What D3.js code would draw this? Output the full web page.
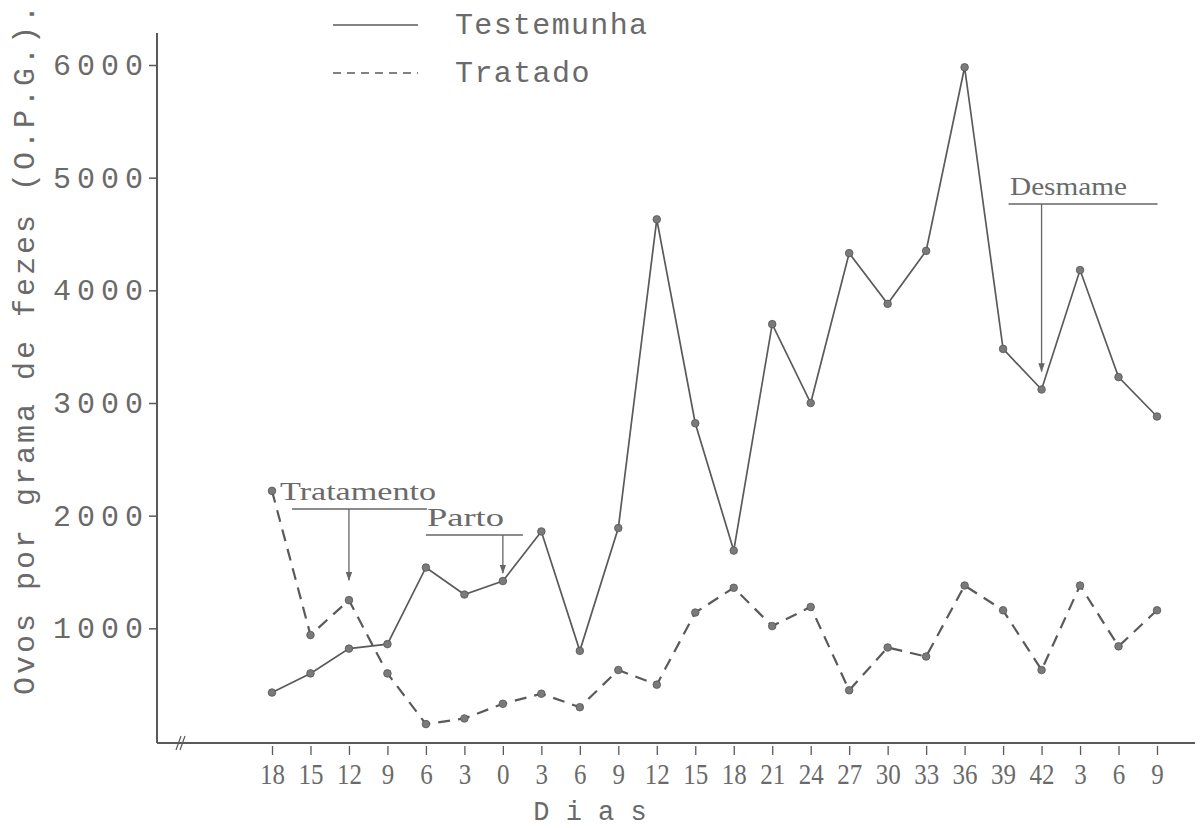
<!DOCTYPE html>
<html>
<head>
<meta charset="utf-8">
<script src="https://cdn.jsdelivr.net/npm/d3@7"></script>
<style>
  body { margin: 0; background: #fff; }
  svg { display: block; }
</style>
</head>
<body>
<svg id="chart" width="1201" height="828"></svg>
<script>
// dias (eixo x) - os rótulos se repetem, por isso usamos o índice
var days = ["18","15","12","9","6","3","0","3","6","9","12","15","18","21","24","27","30","33","36","39","42","3","6","9"];
// O.P.G.
var testemunha = [430, 600, 820, 860, 1540, 1300, 1420, 1860, 800, 1890, 4630, 2820, 1690, 3700, 3000, 4330, 3880, 4350, 5980, 3480, 3120, 4180, 3230, 2880];
var tratado = [2220, 940, 1250, 600, 150, 200, 330, 420, 300, 630, 500, 1140, 1360, 1020, 1190, 450, 830, 750, 1380, 1160, 630, 1380, 840, 1160];
var yTicks = [1000, 2000, 3000, 4000, 5000, 6000];

var ink = "#5a5a5a";
var textInk = "#6a6a6a";
var mono = "'Liberation Mono', 'DejaVu Sans Mono', monospace";
var serif = "'Liberation Serif', 'DejaVu Serif', serif";

var svg = d3.select("#chart");

var x = d3.scalePoint()
    .domain(d3.range(days.length))
    .range([272, 1157]);
var y = d3.scaleLinear()
    .domain([0, 6000])
    .range([741, 65]);

var axisX0 = 157, axisY0 = 743;

// eixos
svg.append("line")
    .attr("x1", axisX0).attr("x2", axisX0)
    .attr("y1", 33).attr("y2", axisY0)
    .attr("stroke", ink).attr("stroke-width", 2);
svg.append("line")
    .attr("x1", axisX0).attr("x2", 1195)
    .attr("y1", axisY0).attr("y2", axisY0)
    .attr("stroke", ink).attr("stroke-width", 2);
// marca de quebra
svg.append("path")
    .attr("d", "M176,750 L181,736 M180,750 L185,736")
    .attr("stroke", ink).attr("stroke-width", 1.2).attr("fill", "none");

var gy = svg.append("g")
    .attr("transform", "translate(" + axisX0 + ",0)")
    .call(d3.axisLeft(y).tickValues(yTicks).tickSize(8).tickPadding(6).tickFormat(d3.format("d")));
gy.select(".domain").remove();
gy.selectAll(".tick line").attr("stroke", ink).attr("stroke-width", 1.5);
gy.selectAll(".tick text")
    .attr("fill", textInk)
    .style("font-family", mono)
    .style("font-size", "30px")
    .attr("textLength", 90)
    .attr("lengthAdjust", "spacing");

var gx = svg.append("g")
    .attr("transform", "translate(0," + (axisY0 + 3) + ")")
    .call(d3.axisBottom(x).tickSize(9).tickPadding(8).tickFormat(function(i) { return days[i]; }));
gx.select(".domain").remove();
gx.selectAll(".tick line").attr("stroke", ink).attr("stroke-width", 1.3);
gx.selectAll(".tick text")
    .attr("fill", textInk)
    .style("font-family", serif)
    .style("font-size", "30px")
    .attr("textLength", function(i) { return days[i].length * 12.5; })
    .attr("lengthAdjust", "spacingAndGlyphs");

// títulos dos eixos
svg.append("text")
    .attr("x", 590).attr("y", 820)
    .attr("text-anchor", "middle")
    .attr("fill", textInk)
    .style("font-family", mono).style("font-size", "27px")
    .text("D i a s");

svg.append("text")
    .attr("transform", "translate(34,350) rotate(-90)")
    .attr("text-anchor", "middle")
    .attr("fill", textInk)
    .style("font-family", mono).style("font-size", "30px")
    .attr("textLength", 690).attr("lengthAdjust", "spacing")
    .text("Ovos por grama de fezes (O.P.G.).");

// séries
var line = d3.line()
    .x(function(d, i) { return x(i); })
    .y(function(d) { return y(d); });

var series = [
  { name: "Testemunha", values: testemunha, dash: null, width: 1.7 },
  { name: "Tratado", values: tratado, dash: "12,8", width: 2.2 }
];

series.forEach(function(s) {
  svg.append("path")
      .datum(s.values)
      .attr("d", line)
      .attr("fill", "none")
      .attr("stroke", ink)
      .attr("stroke-width", s.width)
      .attr("stroke-dasharray", s.dash);
  svg.selectAll(null)
      .data(s.values)
      .enter()
      .append("circle")
      .attr("cx", function(d, i) { return x(i); })
      .attr("cy", function(d) { return y(d); })
      .attr("r", 3.8)
      .attr("fill", "#7a7a7a")
      .attr("stroke", "#555")
      .attr("stroke-width", 0.8);
});

// anotações
var defs = svg.append("defs");
defs.append("marker")
    .attr("id", "arrow")
    .attr("viewBox", "0 0 10 10")
    .attr("refX", 9).attr("refY", 5)
    .attr("markerWidth", 7).attr("markerHeight", 7)
    .attr("orient", "auto")
  .append("path")
    .attr("d", "M0,1.5 L10,5 L0,8.5 Z")
    .attr("fill", "#666");

var notes = [
  { label: "Tratamento", idx: 2, series: tratado, gap: 20, left: -57, right: 78, barY: 509, textX: 280, textW: 156 },
  { label: "Parto", idx: 6, series: testemunha, gap: 8, left: -77, right: 20, barY: 535, textX: 427, textW: 77 },
  { label: "Desmame", idx: 20, series: testemunha, gap: 18, left: -33, right: 116, barY: 204, textX: 1010, textW: 117 }
];

notes.forEach(function(n) {
  var ax = x(n.idx);
  svg.append("line")
      .attr("x1", ax + n.left).attr("x2", ax + n.right)
      .attr("y1", n.barY).attr("y2", n.barY)
      .attr("stroke", "#666").attr("stroke-width", 1.5);
  svg.append("line")
      .attr("x1", ax).attr("x2", ax)
      .attr("y1", n.barY).attr("y2", y(n.series[n.idx]) - n.gap)
      .attr("stroke", "#666").attr("stroke-width", 1.3)
      .attr("marker-end", "url(#arrow)");
  svg.append("text")
      .attr("x", n.textX).attr("y", n.barY - 9)
      .attr("fill", textInk)
      .style("font-family", serif).style("font-size", "26px")
      .attr("textLength", n.textW).attr("lengthAdjust", "spacingAndGlyphs")
      .text(n.label);
});

// legenda
var legend = svg.append("g");
series.forEach(function(s, i) {
  var ly = 25 + i * 48;
  legend.append("line")
      .attr("x1", 333).attr("x2", 418)
      .attr("y1", ly).attr("y2", ly)
      .attr("stroke", ink).attr("stroke-width", 1.5)
      .attr("stroke-dasharray", s.dash ? "8,6" : null);
  legend.append("text")
      .attr("x", 455).attr("y", ly + 9)
      .attr("fill", textInk)
      .style("font-family", mono).style("font-size", "30px")
      .attr("textLength", s.name.length * 19.2).attr("lengthAdjust", "spacing")
      .text(s.name);
});
</script>
</body>
</html>
